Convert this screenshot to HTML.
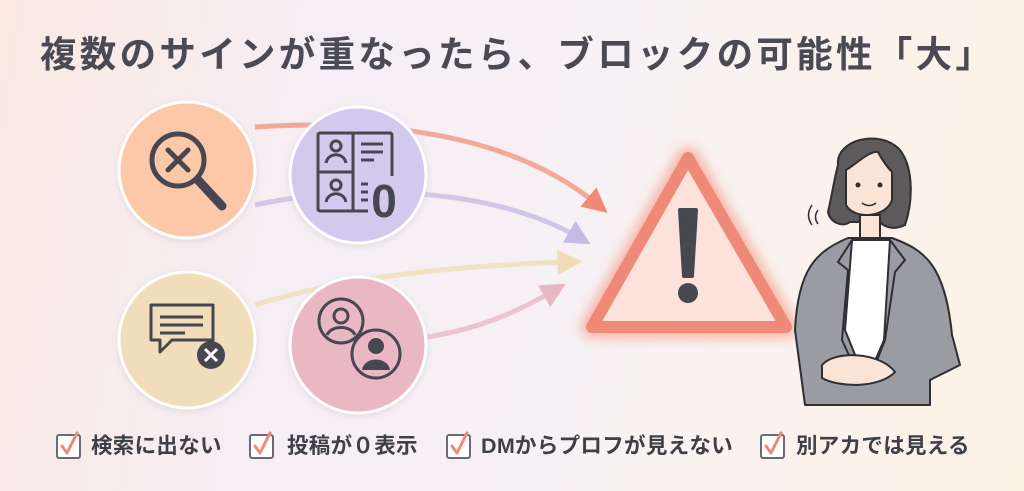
<!DOCTYPE html>
<html><head><meta charset="utf-8"><style>
html,body{margin:0;padding:0}
body{width:1024px;height:491px;overflow:hidden;position:relative;font-family:"Liberation Sans","Noto Sans CJK JP",sans-serif;
background:linear-gradient(100deg,#fbe9e2 0%,#f5eef4 30%,#f6f1f5 55%,#fbf3ea 85%,#fbf0e4 100%)}
.title{position:absolute;left:40px;top:31px;font-size:36.5px;font-weight:bold;color:#4a4a55;letter-spacing:3.3px;white-space:nowrap;line-height:48px}
.chk{position:absolute;top:431px;font-size:21.5px;font-weight:bold;color:#3f3f48;white-space:nowrap;line-height:30px;letter-spacing:0.3px}
.box{position:absolute;top:434px;width:21px;height:21px;border:2px solid #6b6b75;border-radius:3px;background:#fff}
svg{position:absolute;left:0;top:0}
</style></head><body>
<div class="title">複数のサインが重なったら、ブロックの可能性「大」</div>
<svg width="1024" height="491" viewBox="0 0 1024 491">
<defs>
<filter id="glow" x="-30%" y="-30%" width="160%" height="160%"><feGaussianBlur stdDeviation="6"/></filter>
<filter id="sh" x="-20%" y="-20%" width="140%" height="140%"><feGaussianBlur stdDeviation="3"/></filter>
<marker id="mo" markerWidth="5" markerHeight="5" refX="2.5" refY="2.5" orient="auto" markerUnits="strokeWidth"><path d="M0,0 L5,2.5 L0,5 Z" fill="#f08a78"/></marker>
<marker id="mp" markerWidth="5" markerHeight="5" refX="2.5" refY="2.5" orient="auto" markerUnits="strokeWidth"><path d="M0,0 L5,2.5 L0,5 Z" fill="#c5b9e6"/></marker>
<marker id="my" markerWidth="5" markerHeight="5" refX="2.5" refY="2.5" orient="auto" markerUnits="strokeWidth"><path d="M0,0 L5,2.5 L0,5 Z" fill="#efdcb8"/></marker>
<marker id="mk" markerWidth="5" markerHeight="5" refX="2.5" refY="2.5" orient="auto" markerUnits="strokeWidth"><path d="M0,0 L5,2.5 L0,5 Z" fill="#e8b7c4"/></marker>
</defs>
<!-- arrows -->
<path d="M255,127 C400,118 520,140 598,205" fill="none" stroke="#f4a898" stroke-width="5" marker-end="url(#mo)"/>
<path d="M255,205 C330,188 480,180 580,238" fill="none" stroke="#cfc6ea" stroke-width="5" marker-end="url(#mp)"/>
<path d="M255,305 C350,275 470,265 570,262" fill="none" stroke="#f1e2c4" stroke-width="5" marker-end="url(#my)"/>
<path d="M420,338 C480,330 520,310 555,290" fill="none" stroke="#ecc4cf" stroke-width="5" marker-end="url(#mk)"/>
<!-- circles -->
<g fill="#d8d0d8" opacity="0.6" filter="url(#sh)">
<circle cx="187" cy="172" r="70"/><circle cx="358" cy="177" r="70"/><circle cx="187" cy="342" r="70"/><circle cx="358" cy="347" r="70"/>
</g>
<g stroke="#fff" stroke-width="3">
<circle cx="187" cy="170" r="68" fill="#fcc8a8"/>
<circle cx="358" cy="175" r="68" fill="#d3c9ee"/>
<circle cx="187" cy="340" r="68" fill="#f2ddba"/>
<circle cx="358" cy="345" r="68" fill="#eab7c4"/>
</g>
<!-- search icon -->
<g stroke="#474752" stroke-width="5" fill="none" stroke-linecap="round">
<circle cx="178" cy="160" r="26"/>
<path d="M168,150 L188,170 M188,150 L168,170"/>
<path d="M198,180 L222,206" stroke-width="9"/>
</g>
<!-- profile grid icon -->
<g stroke="#474752" stroke-width="3" fill="none">
<rect x="318" y="133" width="74" height="78" rx="2"/>
<path d="M353,133 V211 M318,172 H353"/>
<circle cx="336" cy="146" r="5"/><path d="M326,163 C328,152 344,152 346,163"/>
<circle cx="336" cy="185" r="5"/><path d="M326,202 C328,191 344,191 346,202"/>
<path d="M361,144 H383 M361,152 H383 M361,160 H374"/>
<path d="M361,184 H368 M361,192 H368 M361,200 H368"/>
</g>
<rect x="368" y="176" width="30" height="40" fill="#d3c9ee"/>
<text x="384" y="217" font-family="Liberation Sans" font-weight="bold" font-size="46" fill="#474752" text-anchor="middle">0</text>
<!-- chat icon -->
<g stroke="#474752" stroke-width="3" fill="none" stroke-linejoin="round">
<path d="M151,305 H213 V340 H172 L160,352 V340 H151 Z"/>
<path d="M160,317 H203 M160,325 H203 M160,333 H185"/>
</g>
<circle cx="211" cy="355" r="14" fill="#474752"/>
<path d="M205,349 L217,361 M217,349 L205,361" stroke="#fff" stroke-width="3"/>
<!-- people icon -->
<g stroke="#474752" stroke-width="3" fill="none">
<circle cx="341" cy="321" r="22"/>
<circle cx="341" cy="316" r="7"/>
<path d="M327,335 C331,325 351,325 355,335"/>
</g>
<circle cx="376" cy="354" r="24" fill="#eab7c4" stroke="#474752" stroke-width="3"/>
<circle cx="376" cy="346" r="8" fill="#474752"/>
<path d="M362,370 C364,356 388,356 390,370 Z" fill="#474752"/>
<!-- warning -->
<path d="M688,158 L592,327 L786,327 Z" fill="none" stroke="#f6b2a4" stroke-width="22" stroke-linejoin="round" filter="url(#glow)"/>
<path d="M688,158 L592,327 L786,327 Z" fill="#fde2dc" stroke="#f08a78" stroke-width="12" stroke-linejoin="round"/>
<path d="M680,210 L696,210 L692,276 L684,276 Z" fill="#474752" stroke="#474752" stroke-width="4" stroke-linejoin="round"/>
<circle cx="688" cy="293" r="10" fill="#474752"/>
<!-- woman -->
<g stroke="#2e2e33" stroke-width="2" stroke-linejoin="round">
<path d="M838,165 C835,140 880,128 900,150 C915,170 912,205 905,225 C895,230 885,228 880,222 L850,222 C842,228 830,222 828,212 C832,195 834,180 838,165 Z" fill="#5c5a5a"/>
<path d="M846,170 C855,165 870,150 878,152 C882,160 888,168 892,172 L892,200 C886,218 854,220 846,205 Z" fill="#fbe4d6"/>
<path d="M860,215 L860,240 L880,240 L880,215 Z" fill="#fbe4d6"/>
<path d="M805,405 L795,330 C798,270 815,252 848,238 L892,238 C925,250 945,265 952,335 L960,365 L930,380 L930,405 Z" fill="#9a9ca2"/>
<path d="M852,240 L845,330 L866,382 L884,340 L890,240 Z" fill="#fff"/>
<path d="M852,240 L838,262 L848,270 L842,340 L858,375 M890,240 L905,260 L895,272 L885,340 L870,378" fill="none"/>
<path d="M822,365 C835,350 880,352 895,372 C880,388 840,388 822,378 Z" fill="#fbe4d6"/>
</g>
<g fill="#2e2e33"><circle cx="858" cy="185" r="2.5"/><circle cx="880" cy="185" r="2.5"/></g>
<path d="M862,203 Q869,208 876,203" fill="none" stroke="#2e2e33" stroke-width="1.5"/>
<path d="M812,205 Q805,215 812,225 M818,210 Q813,217 818,224" fill="none" stroke="#2e2e33" stroke-width="1.5"/>
</svg>
<div class="box" style="left:56px"></div><div class="box" style="left:249px"></div><div class="box" style="left:446px"></div><div class="box" style="left:760px"></div>
<svg width="1024" height="491">
<g fill="none" stroke="#ee8a78" stroke-width="3" stroke-linecap="round" stroke-linejoin="round">
<path d="M62,446 L67,453 L77,433"/><path d="M255,446 L260,453 L270,433"/><path d="M452,446 L457,453 L467,433"/><path d="M766,446 L771,453 L781,433"/>
</g></svg>
<div class="chk" style="left:91px">検索に出ない</div>
<div class="chk" style="left:287px">投稿が０表示</div>
<div class="chk" style="left:481px">DMからプロフが見えない</div>
<div class="chk" style="left:796px">別アカでは見える</div>
</body></html>
